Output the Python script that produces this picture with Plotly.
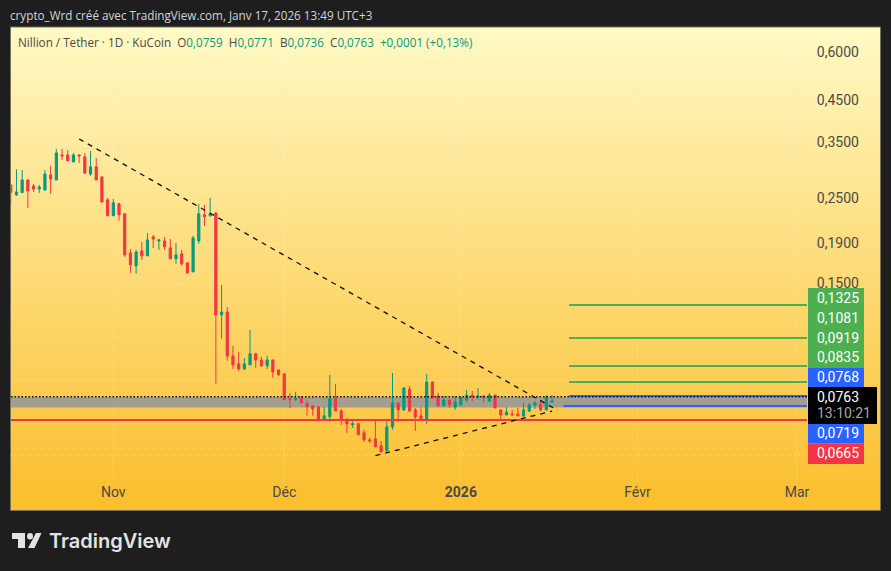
import pandas as pd
import plotly.graph_objects as go

# Daily candles NIL/USDT
first_day = "2025-10-14"

opens = [0.2701, 0.2545, 0.2580, 0.2783, 0.2685, 0.2637, 0.2621, 0.2868, 0.2783, 0.3235, 0.3235, 0.3101,
         0.3235, 0.3196, 0.2885, 0.3011, 0.2834, 0.2470, 0.2245, 0.2411, 0.2271, 0.1796, 0.1662, 0.1818,
         0.1765, 0.1977, 0.1930, 0.1930, 0.1851, 0.1733, 0.1786, 0.1692, 0.1603, 0.1930, 0.2258, 0.2245,
         0.2283, 0.1238, 0.1260, 0.0968, 0.0923, 0.0895, 0.0917, 0.0980, 0.0945, 0.0912, 0.0945, 0.0890,
         0.0869, 0.0748, 0.0744, 0.0753, 0.0726, 0.0717, 0.0713, 0.0663, 0.0672, 0.0748, 0.0696, 0.0659,
         0.0640, 0.0644, 0.0610, 0.0585, 0.0588, 0.0564, 0.0548, 0.0632, 0.0730, 0.0700, 0.0793, 0.0700,
         0.0675, 0.0659, 0.0827, 0.0761, 0.0717, 0.0743, 0.0712, 0.0721, 0.0743, 0.0765, 0.0756, 0.0761,
         0.0738, 0.0765, 0.0700, 0.0679, 0.0683, 0.0683, 0.0675, 0.0695, 0.0721, 0.0725, 0.0700, 0.0734]
highs = [0.2701, 0.2968, 0.2955, 0.2795, 0.2717, 0.2701, 0.2955, 0.3029, 0.3352, 0.3352, 0.3332, 0.3273,
         0.3235, 0.3273, 0.3312, 0.3177, 0.2851, 0.2500, 0.2485, 0.2426, 0.2271, 0.1840, 0.1829, 0.1919,
         0.2025, 0.2000, 0.1953, 0.1977, 0.1953, 0.1907, 0.1829, 0.1692, 0.1989, 0.2411, 0.2397, 0.2500,
         0.2296, 0.1482, 0.1299, 0.1028, 0.0992, 0.0956, 0.1131, 0.0986, 0.0962, 0.0968, 0.0945, 0.0890,
         0.0869, 0.0775, 0.0780, 0.0761, 0.0739, 0.0721, 0.0713, 0.0713, 0.0864, 0.0818, 0.0704, 0.0667,
         0.0663, 0.0648, 0.0621, 0.0592, 0.0659, 0.0581, 0.0659, 0.0874, 0.0730, 0.0803, 0.0808, 0.0708,
         0.0712, 0.0868, 0.0832, 0.0775, 0.0761, 0.0743, 0.0761, 0.0755, 0.0789, 0.0784, 0.0798, 0.0765,
         0.0775, 0.0765, 0.0700, 0.0712, 0.0700, 0.0708, 0.0730, 0.0730, 0.0738, 0.0743, 0.0765, 0.0765]
lows = [0.2397, 0.2530, 0.2580, 0.2354, 0.2590, 0.2575, 0.2606, 0.2560, 0.2783, 0.3138, 0.3120, 0.3101,
        0.3083, 0.2885, 0.2851, 0.2783, 0.2426, 0.2245, 0.2245, 0.2178, 0.1754, 0.1594, 0.1584, 0.1722,
        0.1765, 0.1851, 0.1829, 0.1829, 0.1733, 0.1682, 0.1662, 0.1584, 0.1603, 0.1896, 0.2114, 0.2231,
        0.0818, 0.1072, 0.0940, 0.0895, 0.0885, 0.0890, 0.0917, 0.0901, 0.0906, 0.0895, 0.0849, 0.0859,
        0.0744, 0.0708, 0.0739, 0.0730, 0.0676, 0.0676, 0.0659, 0.0659, 0.0652, 0.0696, 0.0640, 0.0610,
        0.0628, 0.0603, 0.0578, 0.0574, 0.0561, 0.0544, 0.0544, 0.0621, 0.0652, 0.0695, 0.0695, 0.0617,
        0.0659, 0.0643, 0.0747, 0.0717, 0.0717, 0.0708, 0.0700, 0.0721, 0.0734, 0.0738, 0.0743, 0.0730,
        0.0734, 0.0708, 0.0663, 0.0679, 0.0679, 0.0675, 0.0671, 0.0691, 0.0704, 0.0695, 0.0700, 0.0730]
closes = [0.2580, 0.2590, 0.2783, 0.2606, 0.2637, 0.2669, 0.2885, 0.2800, 0.3273, 0.3215, 0.3120, 0.3235,
          0.3215, 0.2903, 0.3011, 0.2783, 0.2440, 0.2245, 0.2426, 0.2258, 0.1775, 0.1672, 0.1807, 0.1765,
          0.1942, 0.1953, 0.1942, 0.1862, 0.1733, 0.1775, 0.1682, 0.1594, 0.1965, 0.2271, 0.2231, 0.2271,
          0.1238, 0.1260, 0.0968, 0.0917, 0.0895, 0.0923, 0.0980, 0.0945, 0.0912, 0.0945, 0.0879, 0.0864,
          0.0744, 0.0744, 0.0748, 0.0730, 0.0713, 0.0704, 0.0659, 0.0676, 0.0748, 0.0696, 0.0659, 0.0644,
          0.0644, 0.0603, 0.0585, 0.0581, 0.0561, 0.0544, 0.0632, 0.0730, 0.0700, 0.0798, 0.0695, 0.0671,
          0.0659, 0.0827, 0.0752, 0.0717, 0.0743, 0.0721, 0.0734, 0.0755, 0.0765, 0.0756, 0.0761, 0.0756,
          0.0765, 0.0708, 0.0679, 0.0691, 0.0679, 0.0675, 0.0700, 0.0721, 0.0730, 0.0700, 0.0756, 0.0738]

days = pd.date_range(first_day, periods=len(opens))

# Axis ticks
price_ticks = [0.6, 0.45, 0.35, 0.25, 0.19, 0.15]
price_tick_labels = ["0,6000", "0,4500", "0,3500", "0,2500", "0,1900", "0,1500"]
month_ticks = ["2025-11-01", "2025-12-01", "2026-01-01", "2026-02-01", "2026-03-01"]
month_labels = ["Nov", "Déc", "<b>2026</b>", "Févr", "Mar"]

# Drawings
green_levels = [0.1314, 0.1078, 0.0911, 0.0828]
blue_levels = [0.0761, 0.0717]
red_level = 0.0659
last_price = 0.0757
band = [0.0710, 0.0757]
high_level = 0.3365
low_level = 0.0533
down_trend_x = ["2025-10-26", "2026-01-18"]
down_trend_y = [0.356, 0.0698]
up_trend_x = ["2025-12-17", "2026-01-17"]
up_trend_y = [0.0532, 0.0695]

x_start = "2025-10-14 01:00"
x_end = "2026-03-02 18:00"
levels_start = "2026-01-20"
lower_blue_start = "2026-01-19"

UP = "#089981"
DOWN = "#F23645"
GREEN = "#4CAF50"
BLUE = "#2962FF"
TEXT = "#4A4A48"
FONT = "Roboto"


def px(x):
    return (x - 11) / 796


def py(y):
    return 1 - (y - 27) / 455


def mix(a, b, t):
    return "rgb({},{},{})".format(*[round(a[i] + (b[i] - a[i]) * t) for i in range(3)])


fig = go.Figure()

fig.add_trace(go.Candlestick(
    x=days, open=opens, high=highs, low=lows, close=closes,
    increasing=dict(line=dict(color=UP, width=1), fillcolor=UP),
    decreasing=dict(line=dict(color=DOWN, width=1), fillcolor=DOWN),
    whiskerwidth=0,
    showlegend=False,
    hoverinfo="skip",
))


def add_line(x, y, color, width=2, dash="solid"):
    fig.add_trace(go.Scatter(
        x=x, y=y, mode="lines", line=dict(color=color, width=width, dash=dash),
        showlegend=False, hoverinfo="skip",
    ))


add_line([x_start, x_end], [high_level, high_level], "#F6C6D0", 1, "1px,3px")
add_line([x_start, x_end], [low_level, low_level], "#FBE3C0", 1, "1px,3px")
add_line([x_start, x_end], [red_level, red_level], DOWN)
for level in green_levels:
    add_line([levels_start, x_end], [level, level], GREEN)
add_line([levels_start, x_end], [blue_levels[0], blue_levels[0]], BLUE)
add_line([lower_blue_start, x_end], [blue_levels[1], blue_levels[1]], BLUE)
add_line([x_start, x_end], [last_price, last_price], "#111111", 1.5, "1.5px,2px")
add_line(down_trend_x, down_trend_y, "#111111", 1.3, "5px,5px")
add_line(up_trend_x, up_trend_y, "#111111", 1.3, "5px,5px")

shapes = []

# panel gradient, stacked strips
top_col = (255, 249, 196)
bottom_col = (251, 190, 44)
n_strips = 121
for i in range(n_strips):
    y0 = 27 + i * 4
    shapes.append(dict(
        type="rect", xref="paper", yref="paper", layer="below",
        x0=px(11), x1=px(880), y0=py(y0), y1=py(min(y0 + 4.5, 510.5)),
        line_width=0, fillcolor=mix(top_col, bottom_col, i / (n_strips - 1)),
    ))

# faint grid
for p in price_ticks + [0.1325, 0.1081, 0.0919, 0.0835]:
    shapes.append(dict(type="line", xref="paper", yref="y", layer="below", x0=0, x1=1, y0=p, y1=p,
                       line=dict(color="rgba(255,255,255,0.10)", width=1)))
for m in month_ticks:
    shapes.append(dict(type="line", xref="x", yref="paper", layer="below", x0=m, x1=m, y0=0, y1=1,
                       line=dict(color="rgba(255,255,255,0.13)", width=1)))

# zone behind the candles
shapes.append(dict(type="rect", xref="paper", yref="y", layer="below", x0=0, x1=1, y0=band[0], y1=band[1],
                   line_width=0, fillcolor="#A39E90"))

# panel border
shapes.append(dict(type="rect", xref="paper", yref="paper", layer="above",
                   x0=px(10.5), x1=px(880.5), y0=py(510.5), y1=py(27),
                   line=dict(color="#77715A", width=1), fillcolor="rgba(0,0,0,0)"))

# price label boxes, right of the plot
label_boxes = [(288, 367.5, GREEN, 864), (367.5, 387, BLUE, 864), (387, 424, "#000000", 877),
               (424, 443.5, BLUE, 864), (443.5, 464, DOWN, 864)]
for y0, y1, color, right in label_boxes:
    shapes.append(dict(type="rect", xref="paper", yref="paper", layer="above",
                       x0=px(808), x1=px(right), y0=py(y1), y1=py(y0), line_width=0, fillcolor=color))

# logo
logo = [
    "M12 533 L25 533 L25 548 L18 548 L18 539 L12 539 Z",
    "M36 533 L41.5 533 L34.5 548 L28 548 Z",
]
for d in logo:
    parts = d.split()
    out = []
    for part in parts:
        if part == "Z":
            out.append("Z")
        elif part[0] in "ML":
            out.append(part[0] + "{:.5f}".format(px(float(part[1:]))))
        else:
            out.append("{:.5f}".format(py(float(part))))
    shapes.append(dict(type="path", xref="paper", yref="paper", path=" ".join(out),
                       line_width=0, fillcolor="#E3E3E3"))
shapes.append(dict(type="circle", xref="paper", yref="paper", x0=px(27), x1=px(33), y0=py(539.5), y1=py(533),
                   line_width=0, fillcolor="#E3E3E3"))

annotations = []


def add_text(x, y, text, color=TEXT, size=14, font=FONT, weight=None):
    annotations.append(dict(
        xref="paper", yref="paper", x=px(x), y=py(y), text=text, showarrow=False,
        xanchor="left", yanchor="middle", align="left",
        font=dict(color=color, size=size, family=font, weight=weight),
    ))


level_labels = [("0,1325", 298), ("0,1081", 318), ("0,0919", 338), ("0,0835", 357), ("0,0768", 377),
                ("0,0763", 397), ("0,0719", 433), ("0,0665", 453)]
for label, y in level_labels:
    add_text(815, y, label, "#FFFFFF")
add_text(815, 413, "13:10:21", "#A8A8A8")

add_text(8, 15, "crypto_Wrd créé avec TradingView.com, Janv 17, 2026 13:49 UTC+3", "#D1D4DC", 11.7, "Open Sans")


def g(s):
    return '<span style="color:{}">{}</span>'.format(UP, s)


legend_text = ("Nillion / Tether · 1D · KuCoin  O" + g("0,0759") + "  H" + g("0,0771") + "  B" + g("0,0736")
               + "  C" + g("0,0763") + "  " + g("+0,0001 (+0,13%)"))
add_text(16, 42, legend_text, TEXT, 11.7, "Open Sans")
add_text(47, 541, "TradingView", "#E3E3E3", 20, "Inter", 600)

fig.update_layout(
    width=891,
    height=571,
    margin=dict(l=11, r=84, t=27, b=89),
    paper_bgcolor="#1E1E1E",
    plot_bgcolor="rgba(0,0,0,0)",
    font=dict(family=FONT, size=14, color=TEXT),
    shapes=shapes,
    annotations=annotations,
    showlegend=False,
    boxgap=0.45,
)
fig.update_xaxes(
    type="date", range=[x_start, x_end], rangeslider_visible=False,
    tickvals=month_ticks, ticktext=month_labels, showgrid=False, zeroline=False, showline=False,
    ticks="", tickfont=dict(size=14, color=TEXT),
)
fig.update_yaxes(
    type="log", range=[-1.3429, -0.1567], side="right",
    tickvals=price_ticks, ticktext=price_tick_labels, showgrid=False, zeroline=False, showline=False,
    ticks="outside", ticklen=6, tickcolor="rgba(0,0,0,0)", tickfont=dict(size=14, color=TEXT),
)

fig.write_html("out.html", post_script="document.body.style.margin='0';document.body.style.overflow='hidden';",
               config=dict(displayModeBar=False))
